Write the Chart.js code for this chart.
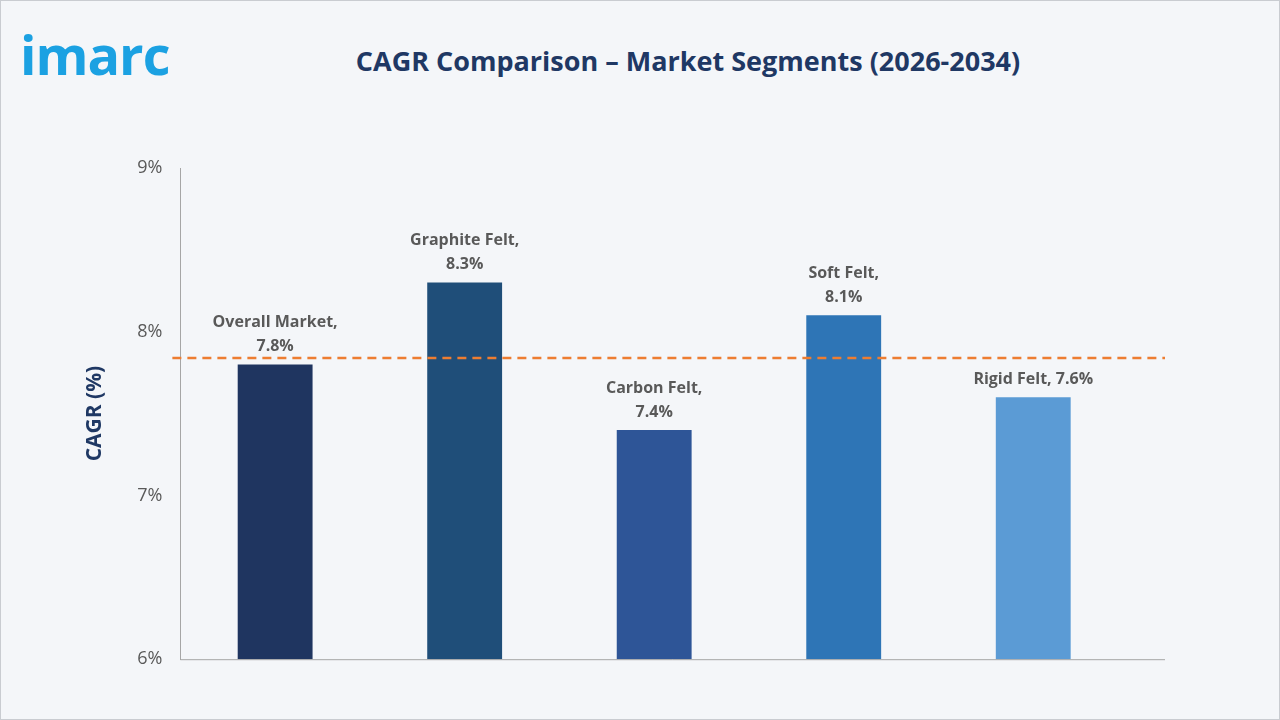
<!DOCTYPE html>
<html><head><meta charset="utf-8">
<script src="https://cdn.jsdelivr.net/npm/chart.js@4"></script>
<style>
html,body{margin:0;padding:0;}
body{width:1280px;height:720px;background:#f4f6f9;position:relative;overflow:hidden;font-family:"Open Sans",sans-serif;}
#frame{position:absolute;left:0;top:0;width:1278px;height:718px;border:1px solid #c9ccd1;}
#logo{position:absolute;left:20px;top:24px;font:bold 54px "Open Sans",sans-serif;color:#1ba1e2;letter-spacing:-1px;line-height:60px;}
#title{position:absolute;left:0;width:1376px;top:42px;text-align:center;font:bold 27px "Open Sans",sans-serif;color:#1f3864;}
#wrap{position:absolute;left:78px;top:140px;width:1090px;height:540px;}
</style></head><body>
<div id="frame"></div>
<div id="logo">imarc</div>
<div id="title">CAGR Comparison – Market Segments (2026-2034)</div>
<div id="wrap"><canvas id="c"></canvas></div>
<script>
const categories=["Overall Market","Graphite Felt","Carbon Felt","Soft Felt","Rigid Felt"];
const values=[7.8,8.3,7.4,8.1,7.6];
const labelLines=[["Overall Market,","7.8%"],["Graphite Felt,","8.3%"],["Carbon Felt,","7.4%"],["Soft Felt,","8.1%"],["Rigid Felt, 7.6%"]];
const colors=["#1f3560","#1f4e79","#2e5597","#2e75b6","#5b9bd5"];
const avgLine=7.84;
const plug={id:'extra',afterDatasetsDraw(ch){
 const {ctx,scales:{x,y},chartArea:a}=ch;
 ctx.save();
 ctx.strokeStyle="#a6a6a6";ctx.lineWidth=1;
 ctx.beginPath();ctx.moveTo(a.left,a.bottom+0.5);ctx.lineTo(a.right+37,a.bottom+0.5);ctx.stroke();
 const yy=y.getPixelForValue(avgLine);
 ctx.strokeStyle="#ed7d31";ctx.lineWidth=2.5;ctx.setLineDash([9,6]);
 ctx.beginPath();ctx.moveTo(a.left-8,yy);ctx.lineTo(a.right+37,yy);ctx.stroke();ctx.setLineDash([]);
 ctx.fillStyle="#595959";ctx.font='bold 16px "Open Sans",sans-serif';ctx.textAlign="center";ctx.textBaseline="bottom";
 ch.getDatasetMeta(0).data.forEach((b,i)=>{
  const L=labelLines[i];
  L.forEach((t,k)=>ctx.fillText(t,b.x,b.y-10-(L.length-1-k)*24));
 });
 ctx.restore();
}};
new Chart(document.getElementById('c'),{type:'bar',
 data:{labels:categories,datasets:[{data:values,backgroundColor:colors,barPercentage:0.79,categoryPercentage:0.5}]},
 options:{responsive:true,maintainAspectRatio:false,animation:false,
  layout:{padding:{top:28,right:40,bottom:6}},
  plugins:{legend:{display:false},tooltip:{enabled:false}},
  scales:{
   x:{grid:{display:false,drawTicks:false},border:{display:false},ticks:{display:false}},
   y:{min:6,max:9,ticks:{stepSize:1,callback:v=>v+"%",color:"#595959",font:{size:18,family:"Open Sans"},padding:10},
      grid:{display:false,drawOnChartArea:false,drawTicks:true,tickLength:8,color:"#a6a6a6"},border:{color:"#a6a6a6"},
      title:{display:true,text:"CAGR (%)",color:"#1f3864",font:{size:21,weight:"bold",family:"Open Sans"},padding:{bottom:20}}}
  }},plugins:[plug]});
</script></body></html>
